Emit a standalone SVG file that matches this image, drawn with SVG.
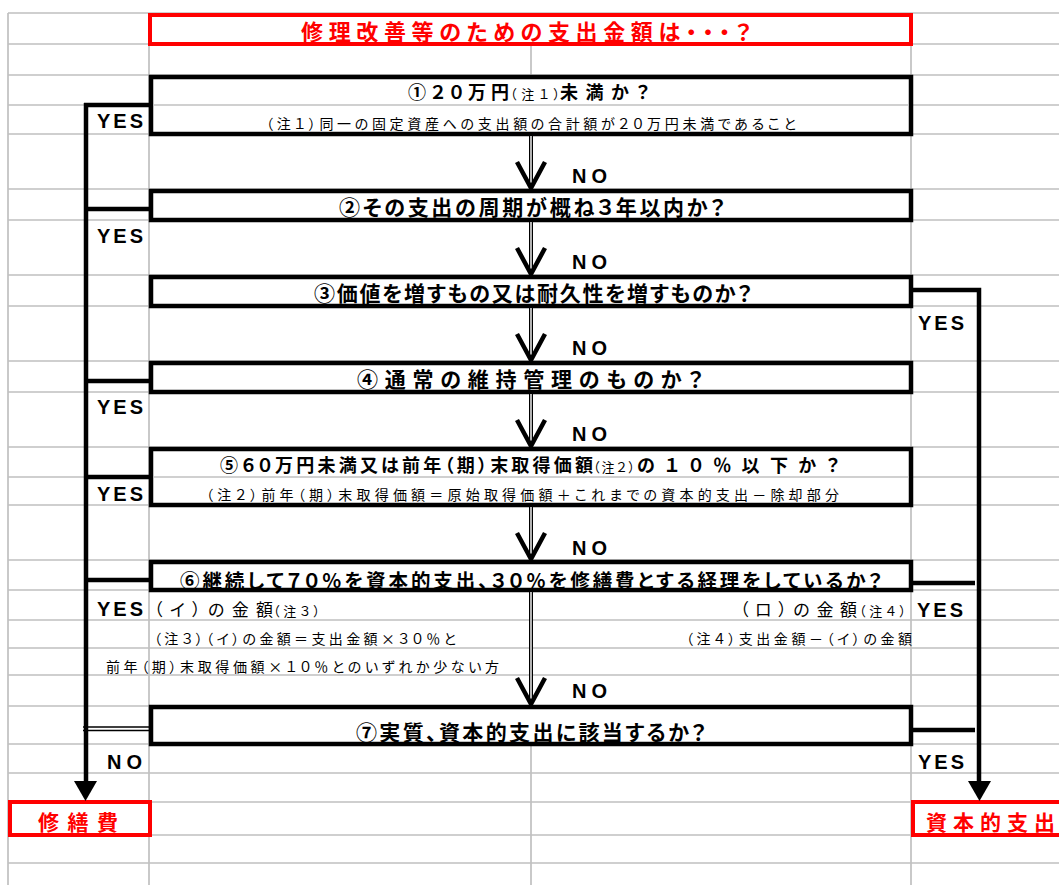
<svg xmlns="http://www.w3.org/2000/svg" width="1059" height="885" viewBox="0 0 1059 885">
<style>
.grid{stroke:#c0c0c0;stroke-width:1.7;fill:none}
.box{fill:#fff;stroke:#000;stroke-width:4.5}
.rbox{fill:#fff;stroke:#f00;stroke-width:4}
.ln{stroke:#000;stroke-width:4.5;fill:none}
.thin{stroke:#000;stroke-width:1.3;fill:none}
.shaft{stroke:#000;stroke-width:4;fill:none}
.shaftin{stroke:#fff;stroke-width:1.4;fill:none}
.vh{stroke:#000;stroke-width:4.5;fill:none;stroke-linejoin:miter}
.jb{font-family:"Noto Sans CJK JP",sans-serif;font-weight:700;fill:#000;font-feature-settings:"palt"}
.jn{font-family:"Noto Sans CJK JP",sans-serif;font-weight:400;fill:#000;font-feature-settings:"palt"}
.red{fill:#f00}
.en{font-family:"Liberation Sans",Arial,sans-serif;font-weight:700;font-size:20px;fill:#000}
</style>
<defs>
<path id="vhead" d="M-14,-27 L0,-1 L14,-27"/>
</defs>
<rect width="1059" height="885" fill="#fff"/>
<g id="grid">
<path class="grid" d="M8,13H1059M8,44H1059M8,75H1059M8,105H1059M8,134H1059M8,189H1059M8,220H1059M8,275H1059M8,306H1059M8,361H1059M8,392H1059M8,447H1059M8,477H1059M8,505H1059M8,560H1059M8,590H1059M8,620H1059M8,648H1059M8,675H1059M8,706H1059M8,744H1059M8,773H1059M8,802H1059M8,835H1059M8,863H1059"/>
<path class="grid" d="M8,13V885M149,13V885M531,13V885M911,13V885"/>
</g>
<g id="title">
<rect class="rbox" x="150" y="15" width="761" height="29"/>
<text class="jb red" x="301" y="40" font-size="22" textLength="450" lengthAdjust="spacing">修理改善等のための支出金額は・・・？</text>
</g>
<g id="q1">
<rect class="box" x="151" y="77" width="760" height="57"/>
<line class="grid" x1="154" y1="105" x2="909" y2="105"/>
<text class="jb" x="408" y="99" font-size="18" textLength="101" lengthAdjust="spacing">①２０万円</text>
<text class="jn" x="510" y="99" font-size="13" textLength="50" lengthAdjust="spacing">（注１）</text>
<text class="jb" x="560" y="99" font-size="18" textLength="89" lengthAdjust="spacing">未満か？</text>
<text class="jn" x="266" y="129" font-size="14" textLength="530" lengthAdjust="spacing">（注１）同一の固定資産への支出額の合計額が２０万円未満であること</text>
</g>
<g id="q2">
<rect class="box" x="151" y="191" width="760" height="29"/>
<text class="jb" x="339" y="215" font-size="21" textLength="386" lengthAdjust="spacing">②その支出の周期が概ね３年以内か？</text>
</g>
<g id="q3">
<rect class="box" x="151" y="277" width="760" height="29"/>
<text class="jb" x="314" y="301" font-size="21" textLength="438" lengthAdjust="spacing">③価値を増すもの又は耐久性を増すものか？</text>
</g>
<g id="q4">
<rect class="box" x="151" y="363" width="760" height="29"/>
<text class="jb" x="357" y="387" font-size="21" textLength="346" lengthAdjust="spacing">④通常の維持管理のものか？</text>
</g>
<g id="q5">
<rect class="box" x="151" y="449" width="760" height="56"/>
<line class="grid" x1="154" y1="477" x2="909" y2="477"/>
<text class="jb" x="220" y="472" font-size="18" textLength="373" lengthAdjust="spacing">⑤６０万円未満又は前年（期）末取得価額</text>
<text class="jn" x="593" y="472" font-size="13" textLength="42" lengthAdjust="spacing">（注２）</text>
<text class="jb" x="637" y="472" font-size="18" textLength="202" lengthAdjust="spacing">の１０％以下か？</text>
<text class="jn" x="206" y="500" font-size="14" textLength="633" lengthAdjust="spacing">（注２）前年（期）末取得価額＝原始取得価額＋これまでの資本的支出－除却部分</text>
</g>
<g id="q6">
<rect class="box" x="151" y="562" width="760" height="28"/>
<text class="jb" x="180" y="588" font-size="19.5" textLength="702" lengthAdjust="spacing">⑥継続して７０％を資本的支出、３０％を修繕費とする経理をしているか？</text>
</g>
<g id="q7">
<rect class="box" x="151" y="707" width="760" height="37"/>
<text class="jb" x="356" y="740" font-size="21" textLength="350" lengthAdjust="spacing">⑦実質、資本的支出に該当するか？</text>
</g>
<g id="r-repair">
<rect class="rbox" x="10" y="802" width="140" height="33"/>
<text class="jb red" x="38" y="830" font-size="21" textLength="80" lengthAdjust="spacing">修繕費</text>
</g>
<g id="r-capital">
<rect class="rbox" x="913" y="802" width="150" height="33"/>
<text class="jb red" x="926" y="830" font-size="21" textLength="129" lengthAdjust="spacing">資本的支出</text>
</g>
<g id="notes">
<text class="jn" x="154" y="616" font-size="17" textLength="119" lengthAdjust="spacing">（イ）の金額</text>
<text class="jn" x="273" y="616" font-size="13" textLength="47" lengthAdjust="spacing">（注３）</text>
<text class="jn" x="740" y="616" font-size="17" textLength="117" lengthAdjust="spacing">（ロ）の金額</text>
<text class="jn" x="859" y="616" font-size="13" textLength="47" lengthAdjust="spacing">（注４）</text>
<text class="jn" x="154" y="644" font-size="14" textLength="302" lengthAdjust="spacing">（注３）（イ）の金額＝支出金額×３０％と</text>
<text class="jn" x="106" y="672" font-size="14" textLength="393" lengthAdjust="spacing">前年（期）末取得価額×１０％とのいずれか少ない方</text>
<text class="jn" x="686" y="644" font-size="14" textLength="226" lengthAdjust="spacing">（注４）支出金額－（イ）の金額</text>
</g>
<g id="connectors">
<path class="ln" d="M86,103V782M84,105H150M84,209H150M84,381H150M84,477H150M84,580H150"/>
<path class="thin" d="M83,727H150M83,730.5H150"/>
<path d="M74,781H97L85.5,801Z" fill="#000"/>
<path class="ln" d="M913,290H979V782M913,583H975M913,730H975"/>
<path d="M968,781H991L979.5,801Z" fill="#000"/>
<path class="shaft" d="M531,136V189M531,222V275M531,308V361M531,394V447M531,507V560M531,592V705"/>
<path class="shaftin" d="M531,136V186M531,222V272M531,308V358M531,394V444M531,507V557M531,592V702"/>
<use href="#vhead" class="vh" x="531" y="189"/>
<use href="#vhead" class="vh" x="531" y="275"/>
<use href="#vhead" class="vh" x="531" y="361"/>
<use href="#vhead" class="vh" x="531" y="447"/>
<use href="#vhead" class="vh" x="531" y="560"/>
<use href="#vhead" class="vh" x="531" y="705"/>
</g>
<g id="labels">
<text class="en" x="97" y="128" textLength="46" lengthAdjust="spacing">YES</text>
<text class="en" x="97" y="243" textLength="46" lengthAdjust="spacing">YES</text>
<text class="en" x="97" y="414" textLength="46" lengthAdjust="spacing">YES</text>
<text class="en" x="97" y="501" textLength="46" lengthAdjust="spacing">YES</text>
<text class="en" x="97" y="616" textLength="46" lengthAdjust="spacing">YES</text>
<text class="en" x="107" y="769" textLength="35" lengthAdjust="spacing">NO</text>
<text class="en" x="918" y="330" textLength="46" lengthAdjust="spacing">YES</text>
<text class="en" x="917" y="617" textLength="46" lengthAdjust="spacing">YES</text>
<text class="en" x="918" y="769" textLength="46" lengthAdjust="spacing">YES</text>
<text class="en" x="572" y="183" textLength="35" lengthAdjust="spacing">NO</text>
<text class="en" x="572" y="269" textLength="35" lengthAdjust="spacing">NO</text>
<text class="en" x="572" y="355" textLength="35" lengthAdjust="spacing">NO</text>
<text class="en" x="572" y="441" textLength="35" lengthAdjust="spacing">NO</text>
<text class="en" x="572" y="555" textLength="35" lengthAdjust="spacing">NO</text>
<text class="en" x="572" y="698" textLength="35" lengthAdjust="spacing">NO</text>
</g>
</svg>
